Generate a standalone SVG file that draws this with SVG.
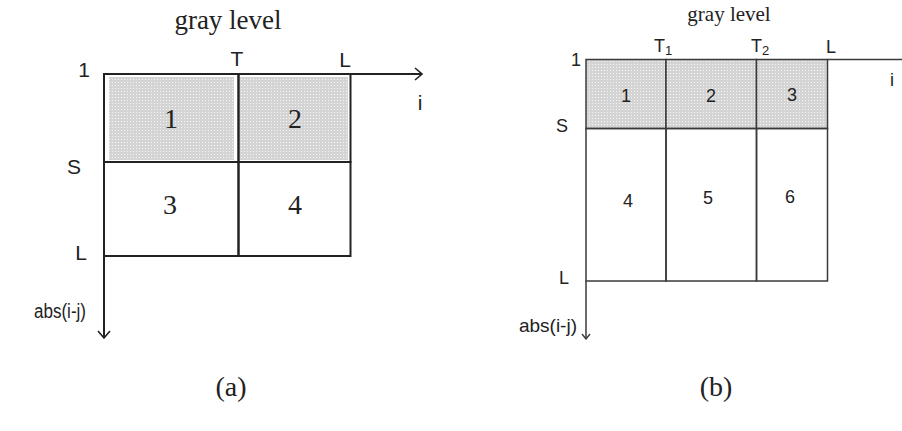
<svg xmlns="http://www.w3.org/2000/svg" width="902" height="431" viewBox="0 0 902 431">
<style>
.serif{font-family:"Liberation Serif","Times New Roman",serif;fill:#222}
.sans{font-family:"Liberation Sans",Arial,sans-serif;fill:#222}
.la{stroke:#222;stroke-width:2;fill:none}
.lb{stroke:#3a3a3a;stroke-width:1.5;fill:none}
</style>
<defs>
<pattern id="dots" width="3" height="3" patternUnits="userSpaceOnUse">
<rect width="3" height="3" fill="#d4d4d4"/>
<rect x="1" y="1" width="1" height="1" fill="#f6f6f6"/>
</pattern>
<marker id="arr" viewBox="0 0 14 14" refX="13" refY="7" markerWidth="14" markerHeight="14" markerUnits="userSpaceOnUse" orient="auto">
<path d="M6,1 L13,7 L6,13" fill="none" stroke="#222" stroke-width="1.6"/>
</marker>
<marker id="arrs" viewBox="0 0 10 10" refX="9" refY="5" markerWidth="10" markerHeight="10" markerUnits="userSpaceOnUse" orient="auto">
<path d="M4,1 L9,5 L4,9" fill="none" stroke="#3a3a3a" stroke-width="1.4"/>
</marker>
</defs>

<!-- (a) -->
<g id="a-cell1"><rect x="109" y="77" width="125" height="83" fill="url(#dots)"/><rect x="104" y="74" width="134.5" height="88" class="la"/><text class="serif" x="171" y="128" font-size="28" text-anchor="middle">1</text></g>
<g id="a-cell2"><rect x="240" y="77" width="108" height="83" fill="url(#dots)"/><rect x="238.5" y="74" width="112" height="88" class="la"/><text class="serif" x="295" y="128" font-size="28" text-anchor="middle">2</text></g>
<g id="a-cell3"><rect x="104" y="162" width="134.5" height="94" class="la"/><text class="serif" x="170" y="214" font-size="28" text-anchor="middle">3</text></g>
<g id="a-cell4"><rect x="238.5" y="162" width="112" height="94" class="la"/><text class="serif" x="295" y="214" font-size="28" text-anchor="middle">4</text></g>
<g id="a-axes">
<line x1="350" y1="74" x2="422" y2="74" class="la" marker-end="url(#arr)"/>
<line x1="104" y1="256" x2="104" y2="338" class="la" marker-end="url(#arr)"/>
</g>
<g id="a-labels">
<text class="serif" x="228" y="29" font-size="27" text-anchor="middle">gray level</text>
<text class="sans" x="84" y="77" font-size="21" text-anchor="middle">1</text>
<text class="sans" x="237" y="66" font-size="21" text-anchor="middle">T</text>
<text class="sans" x="345" y="67" font-size="21" text-anchor="middle">L</text>
<text class="sans" x="420" y="110" font-size="21" text-anchor="middle">i</text>
<text class="sans" x="74" y="174" font-size="21" text-anchor="middle">S</text>
<text class="sans" x="81" y="260" font-size="21" text-anchor="middle">L</text>
<text class="sans" x="34" y="318" font-size="20" textLength="52" lengthAdjust="spacingAndGlyphs">abs(i-j)</text>
<text class="serif" x="231" y="396" font-size="28" text-anchor="middle">(a)</text>
</g>

<!-- (b) -->
<g id="b-cell1"><rect x="586" y="59.5" width="80" height="69" fill="url(#dots)"/><rect x="586" y="59.5" width="80" height="69" class="lb"/><text class="sans" x="626" y="102" font-size="18" text-anchor="middle">1</text></g>
<g id="b-cell2"><rect x="666" y="59.5" width="90.5" height="69" fill="url(#dots)"/><rect x="666" y="59.5" width="90.5" height="69" class="lb"/><text class="sans" x="711" y="102" font-size="18" text-anchor="middle">2</text></g>
<g id="b-cell3"><rect x="756.5" y="59.5" width="71" height="69" fill="url(#dots)"/><rect x="756.5" y="59.5" width="71" height="69" class="lb"/><text class="sans" x="792" y="101" font-size="18" text-anchor="middle">3</text></g>
<g id="b-cell4"><rect x="586" y="128.5" width="80" height="152.5" class="lb"/><text class="sans" x="628" y="207" font-size="18" text-anchor="middle">4</text></g>
<g id="b-cell5"><rect x="666" y="128.5" width="90.5" height="152.5" class="lb"/><text class="sans" x="708" y="204" font-size="18" text-anchor="middle">5</text></g>
<g id="b-cell6"><rect x="756.5" y="128.5" width="71" height="152.5" class="lb"/><text class="sans" x="790" y="203" font-size="18" text-anchor="middle">6</text></g>
<g id="b-axes">
<line x1="827.5" y1="59.5" x2="902" y2="59.5" class="lb"/>
<line x1="586" y1="281" x2="586" y2="339" class="lb" marker-end="url(#arrs)"/>
</g>
<g id="b-labels">
<text class="serif" x="729" y="21" font-size="21" text-anchor="middle">gray level</text>
<text class="sans" x="576" y="66" font-size="18" text-anchor="middle">1</text>
<text class="sans" x="654" y="52" font-size="18">T<tspan font-size="13" dy="3">1</tspan></text>
<text class="sans" x="751" y="52" font-size="18">T<tspan font-size="13" dy="3">2</tspan></text>
<text class="sans" x="831" y="53" font-size="18" text-anchor="middle">L</text>
<text class="sans" x="892" y="86" font-size="18" text-anchor="middle">i</text>
<text class="sans" x="562" y="132" font-size="18" text-anchor="middle">S</text>
<text class="sans" x="564" y="284" font-size="18" text-anchor="middle">L</text>
<text class="sans" x="577" y="332" font-size="19" text-anchor="end">abs(i-j)</text>
<text class="serif" x="716" y="396" font-size="28" text-anchor="middle">(b)</text>
</g>
</svg>
